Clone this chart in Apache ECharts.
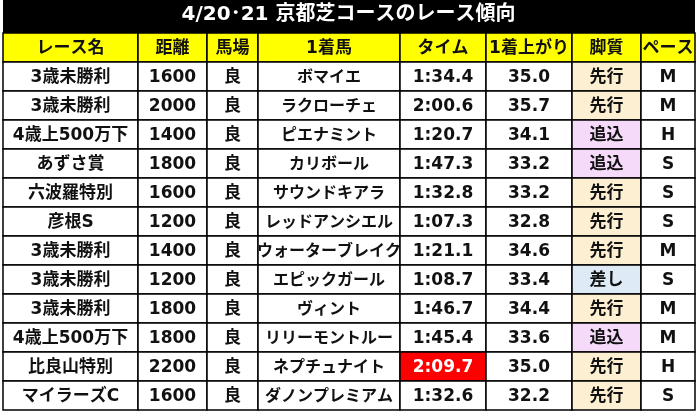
<!DOCTYPE html>
<html><head><meta charset="utf-8">
<script src="https://cdn.jsdelivr.net/npm/echarts@6/dist/echarts.min.js"></script>
<style>html,body{margin:0;padding:0;background:#fff}#c{width:697px;height:416px}</style>
</head><body><div id="c"></div>
<script>
const title = '4/20･21 京都芝コースのレース傾向';
const headers = ['レース名','距離','馬場','1着馬','タイム','1着上がり','脚質','ペース'];
const races = ['3歳未勝利','3歳未勝利','4歳上500万下','あずさ賞','六波羅特別','彦根S','3歳未勝利','3歳未勝利','3歳未勝利','4歳上500万下','比良山特別','マイラーズC'];
const distances = ['1600','2000','1400','1800','1600','1200','1400','1200','1800','1800','2200','1600'];
const going = ['良','良','良','良','良','良','良','良','良','良','良','良'];
const winners = ['ボマイエ','ラクローチェ','ピエナミント','カリボール','サウンドキアラ','レッドアンシエル','ウォーターブレイク','エピックガール','ヴィント','リリーモントルー','ネプチュナイト','ダノンプレミアム'];
const times = ['1:34.4','2:00.6','1:20.7','1:47.3','1:32.8','1:07.3','1:21.1','1:08.7','1:46.7','1:45.4','2:09.7','1:32.6'];
const last3f = ['35.0','35.7','34.1','33.2','33.2','32.8','34.6','33.4','34.4','33.6','35.0','32.2'];
const styles = ['先行','先行','追込','追込','先行','先行','先行','差し','先行','追込','先行','先行'];
const paces = ['M','M','H','S','S','S','M','S','M','M','H','S'];

const colEdges = [3,138,207,258,400,486,572,641,695];
const styleColors = {'先行':'#fdefd1','追込':'#f6dafa','差し':'#dfeaf7'};
const columns = [races,distances,going,winners,times,last3f,styles,paces];
const rowNames = ['h'].concat(races.map((_,i)=>'r'+i));
const data = [];
headers.forEach((h,c)=>data.push([c,0,h]));
for(let r=0;r<races.length;r++) for(let c=0;c<columns.length;c++) data.push([c,r+1,columns[c][r]]);
const FONT = '"DejaVu Sans","Noto Sans CJK JP"';

const chart = echarts.init(document.getElementById('c'));
chart.setOption({
  animation:false,
  graphic:[
    {type:'rect',shape:{x:3,y:0,width:692,height:33},style:{fill:'#000'}},
    {type:'text',left:'center',top:5,style:{text:title,fill:'#fff',font:'bold 20px '+FONT}}
  ],
  grid:{left:0,right:0,top:33,bottom:6},
  xAxis:{type:'value',min:0,max:697,show:false},
  yAxis:{type:'category',data:rowNames,inverse:true,show:false},
  series:[{
    type:'custom',
    data:data,
    renderItem:function(params,api){
      const c=api.value(0), r=api.value(1), txt=data[params.dataIndex][2];
      const p0=api.coord([colEdges[c],r]); const p1=api.coord([colEdges[c+1],r]);
      const h=api.size([0,1])[1];
      const y=p0[1]-h/2;
      let fill='#fff', tc='#111';
      if(r===0) fill='#ffff00';
      else if(c===6) fill=styleColors[txt]||'#fff';
      else if(c===4 && txt==='2:09.7'){fill='#ff0000';tc='#fff';}
      const fs = (c===3 && r>0) ? 16 : 17;
      return {type:'group',children:[
        {type:'rect',shape:{x:p0[0],y:y,width:p1[0]-p0[0],height:h},style:{fill:fill,stroke:'#000',lineWidth:1.5}},
        {type:'text',style:{text:txt,x:(p0[0]+p1[0])/2,y:y+h/2+1,align:'center',verticalAlign:'middle',fill:tc,font:'bold '+fs+'px '+FONT}}
      ]};
    }
  }]
});
</script></body></html>
